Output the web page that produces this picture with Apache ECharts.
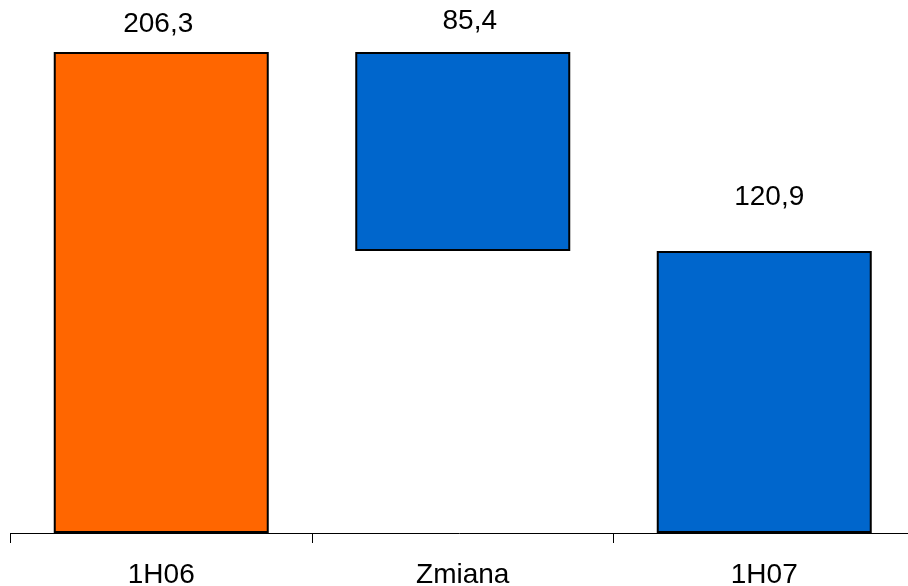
<!DOCTYPE html>
<html>
<head>
<meta charset="utf-8">
<script src="https://cdn.jsdelivr.net/npm/echarts@6/dist/echarts.min.js"></script>
<style>html,body{margin:0;padding:0;background:#fff;}#c{width:908px;height:586px;}</style>
</head>
<body>
<div id="c"></div>
<script>
var categories = ['1H06', 'Zmiana', '1H07'];
var baseValues = [0, 120.9, 0];
var barValues = [206.3, 85.4, 120.9];
var valueLabels = ['206,3', '85,4', '120,9'];
var barColors = ['#FF6600', '#0066CC', '#0066CC'];
var labelDistance = [14, 17, 40];
var labelShiftX = [-3, 7, 5];

var chart = echarts.init(document.getElementById('c'), null, {renderer: 'canvas'});
var font = '"Liberation Sans", Arial, sans-serif';
chart.setOption({
  animation: false,
  grid: {left: 10.5, width: 904.5, top: 52, bottom: 53, containLabel: false, outerBoundsMode: 'none'},
  xAxis: {
    type: 'category',
    data: categories,
    axisLine: {show: true, lineStyle: {color: '#000', width: 1}},
    axisTick: {show: true, length: 10, alignWithLabel: false, interval: 0, lineStyle: {color: '#000', width: 1}},
    axisLabel: {color: '#000', fontSize: 28, fontFamily: font, margin: 28}
  },
  yAxis: {
    type: 'value', min: 0, max: 206.3,
    show: false, splitLine: {show: false}
  },
  series: [
    {
      type: 'bar', stack: 'w', barWidth: 215,
      itemStyle: {color: 'transparent'},
      silent: true,
      data: baseValues
    },
    {
      type: 'bar', stack: 'w', barWidth: 215,
      data: barValues.map(function (v, i) {
        return {
          value: v,
          itemStyle: {color: barColors[i], borderColor: '#000', borderWidth: 2},
          label: {
            show: true, position: 'top', distance: labelDistance[i],
            offset: [labelShiftX[i], 0],
            formatter: valueLabels[i],
            color: '#000', fontSize: 28, fontFamily: font
          }
        };
      })
    }
  ]
});
</script>
</body>
</html>
